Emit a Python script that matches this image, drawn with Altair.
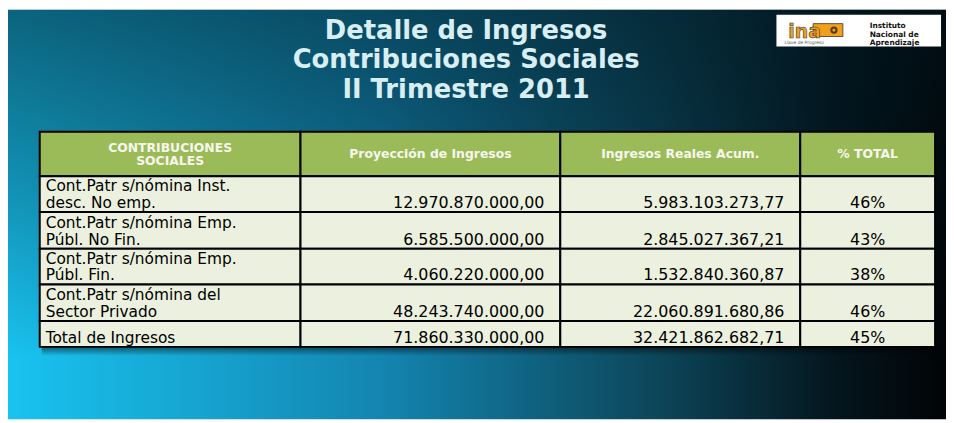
import altair as alt
import pandas as pd

# ---------------- data ----------------
title_lines = ["Detalle de Ingresos", "Contribuciones Sociales", "II Trimestre 2011"]
header = [["CONTRIBUCIONES", "SOCIALES"], ["Proyección de Ingresos"],
          ["Ingresos Reales Acum."], ["% TOTAL"]]
categories = [["Cont.Patr s/nómina Inst.", "desc. No emp."],
              ["Cont.Patr s/nómina Emp.", "Públ. No Fin."],
              ["Cont.Patr s/nómina Emp.", "Públ. Fin."],
              ["Cont.Patr s/nómina  del", "Sector Privado"],
              ["Total de Ingresos"]]
proyeccion = [12970870000.00, 6585500000.00, 4060220000.00, 48243740000.00, 71860330000.00]
reales = [5983103273.77, 2845027367.21, 1532840360.87, 22060891680.86, 32421862682.71]
pct_total = [46, 43, 38, 46, 45]
logo_word = "ina"
logo_lines = ["Instituto", "Nacional de", "Aprendizaje"]
logo_tag = "Llave de Progreso"

# ---------------- layout ----------------
W, H = 946, 413
col_edges = [32, 295, 557, 799, 935]
row_edges = [123, 168, 204, 241, 277, 314, 340]
HEAD_FILL = "#9bbb59"
BODY_FILL = "#ebf1de"
FONT = "DejaVu Sans"


def fmt(v):
    s = f"{v:,.2f}"
    return s.replace(",", "X").replace(".", ",").replace("X", ".")


xs = alt.Scale(domain=[0, W], nice=False, zero=False)
ys = alt.Scale(domain=[0, H], nice=False, zero=False, reverse=True)


def enc(rect=False):
    e = dict(x=alt.X("x:Q", scale=xs, axis=None), y=alt.Y("y:Q", scale=ys, axis=None))
    if rect:
        e.update(x2=alt.X2("x2:Q"), y2=alt.Y2("y2:Q"))
    return e


one = pd.DataFrame({"x": [0], "x2": [W], "y": [0], "y2": [H]})

# background
bg = alt.Chart(one).mark_rect(
    color=alt.LinearGradient(
        gradient="linear", x1=0, y1=0, x2=1, y2=0,
        stops=[alt.GradientStop(offset=0, color="#19c3f0"),
               alt.GradientStop(offset=0.4, color="#1385b0"),
               alt.GradientStop(offset=0.7, color="#0c4457"),
               alt.GradientStop(offset=0.88, color="#04161e"),
               alt.GradientStop(offset=1, color="#010406")])
).encode(**enc(True))
bg2 = alt.Chart(one).mark_rect(
    color=alt.LinearGradient(
        gradient="linear", x1=0, y1=0, x2=0, y2=1,
        stops=[alt.GradientStop(offset=0, color="rgba(0,22,32,0.55)"),
               alt.GradientStop(offset=0.45, color="rgba(0,22,32,0.28)"),
               alt.GradientStop(offset=0.85, color="rgba(0,22,32,0)"),
               alt.GradientStop(offset=1, color="rgba(0,22,32,0)")])
).encode(**enc(True))

# title
tdf = pd.DataFrame({"x": [462] * 3, "y": [21, 51, 81.5], "t": title_lines})
title = alt.Chart(tdf).mark_text(
    font=FONT, fontWeight="bold", fontSize=26, align="center",
    baseline="middle", color="#d8eef3"
).encode(text="t:N", **enc())

# logo
logo_box = alt.Chart(pd.DataFrame({"x": [775], "x2": [941], "y": [5], "y2": [37]})).mark_rect(
    color="white").encode(**enc(True))
key_head = alt.Chart(pd.DataFrame({"x": [812], "x2": [842], "y": [14], "y2": [27]})).mark_rect(
    color="#f2a01c", stroke="#333", strokeWidth=0.8).encode(**enc(True))
key_hole = alt.Chart(pd.DataFrame({"x": [833], "y": [20.5]})).mark_point(
    shape="circle", size=28, filled=False, stroke="#111", strokeWidth=2).encode(**enc())
ina = alt.Chart(pd.DataFrame({"x": [787], "y": [28], "t": [logo_word]})).mark_text(
    font=FONT, fontWeight="bold", fontSize=19, align="left", baseline="alphabetic",
    color="#f2a01c", stroke="#333", strokeWidth=0.6).encode(text="t:N", **enc())
tag = alt.Chart(pd.DataFrame({"x": [803], "y": [34.5], "t": [logo_tag]})).mark_text(
    font=FONT, fontSize=4.5, align="center", baseline="alphabetic", color="#555"
).encode(text="t:N", **enc())
ldf = pd.DataFrame({"x": [869] * 3, "y": [16.5, 25, 33.5], "t": logo_lines})
logo_txt = alt.Chart(ldf).mark_text(
    font=FONT, fontWeight="bold", fontSize=7.5, align="left", baseline="middle", color="#111"
).encode(text="t:N", **enc())

# table shadow
shadow = alt.Chart(pd.DataFrame({"x": [col_edges[0] + 2], "x2": [col_edges[-1] + 2],
                                 "y": [row_edges[-1]], "y2": [row_edges[-1] + 9]})).mark_rect(
    color=alt.LinearGradient(
        gradient="linear", x1=0, y1=0, x2=0, y2=1,
        stops=[alt.GradientStop(offset=0, color="rgba(0,0,0,0.5)"),
               alt.GradientStop(offset=1, color="rgba(0,0,0,0)")])
).encode(**enc(True))

# table cells
cells = []
for r in range(len(row_edges) - 1):
    for c in range(len(col_edges) - 1):
        cells.append({"x": col_edges[c], "x2": col_edges[c + 1],
                      "y": row_edges[r], "y2": row_edges[r + 1],
                      "fill": HEAD_FILL if r == 0 else BODY_FILL})
cell_chart = alt.Chart(pd.DataFrame(cells)).mark_rect(
    stroke="black", strokeWidth=2
).encode(color=alt.Color("fill:N", scale=None), **enc(True))

# header text
hrows = []
for c, lines in enumerate(header):
    cx = (col_edges[c] + col_edges[c + 1]) / 2
    if len(lines) == 1:
        hrows.append({"x": cx, "y": 146, "t": lines[0]})
    else:
        for i, ln in enumerate(lines):
            hrows.append({"x": cx, "y": 139 + 14 * i, "t": ln})
head_txt = alt.Chart(pd.DataFrame(hrows)).mark_text(
    font=FONT, fontWeight="bold", fontSize=12.5, align="center", baseline="middle",
    color="#f7f7ee"
).encode(text="t:N", **enc())

# body text
lab, num, pc = [], [], []
for r in range(len(categories)):
    bottom = row_edges[r + 2] - 4
    lines = categories[r]
    n = len(lines)
    for i, ln in enumerate(lines):
        lab.append({"x": col_edges[0] + 6, "y": bottom - 17 * (n - 1 - i), "t": ln})
    num.append({"x": col_edges[2] - 16, "y": bottom, "t": fmt(proyeccion[r])})
    num.append({"x": col_edges[3] - 16, "y": bottom, "t": fmt(reales[r])})
    pc.append({"x": (col_edges[3] + col_edges[4]) / 2, "y": bottom, "t": f"{pct_total[r]}%"})

lab_txt = alt.Chart(pd.DataFrame(lab)).mark_text(
    font=FONT, fontSize=15.5, align="left", baseline="alphabetic", color="black"
).encode(text="t:N", **enc())
num_txt = alt.Chart(pd.DataFrame(num)).mark_text(
    font=FONT, fontSize=16, align="right", baseline="alphabetic", color="black"
).encode(text="t:N", **enc())
pc_txt = alt.Chart(pd.DataFrame(pc)).mark_text(
    font=FONT, fontSize=16, align="center", baseline="alphabetic", color="black"
).encode(text="t:N", **enc())

chart = alt.layer(
    bg, bg2, title, logo_box, key_head, key_hole, ina, tag, logo_txt,
    shadow, cell_chart, head_txt, lab_txt, num_txt, pc_txt
).properties(width=W, height=H, padding=0).configure_view(strokeWidth=0)

chart.save("out.html", embed_options={"renderer": "svg", "actions": False})
